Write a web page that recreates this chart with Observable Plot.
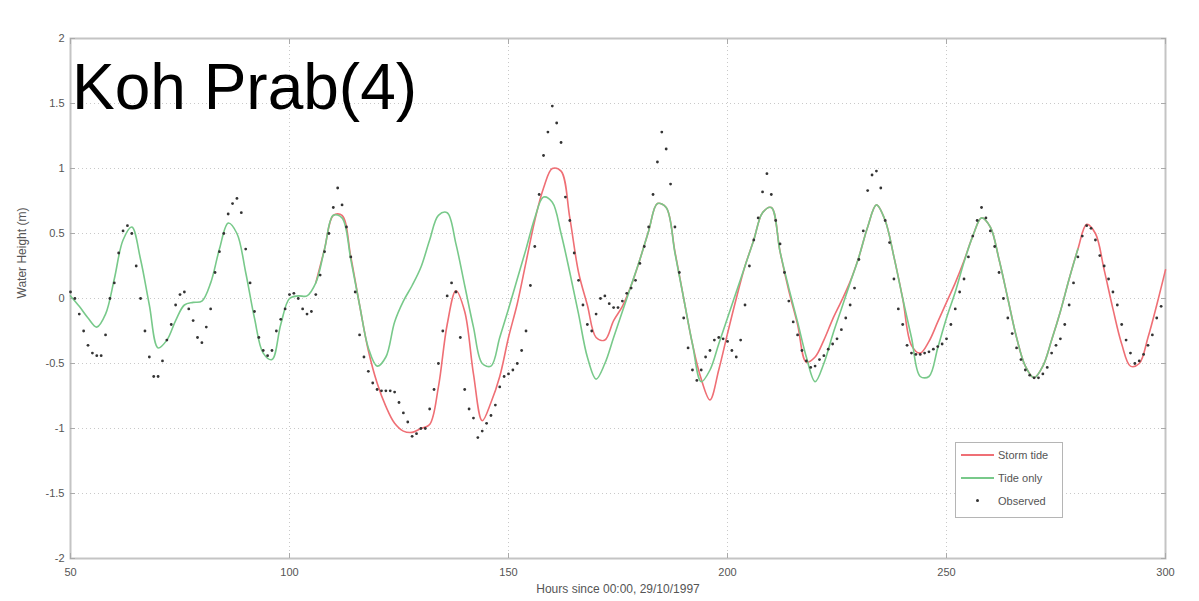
<!DOCTYPE html>
<html>
<head>
<meta charset="utf-8">
<script src="https://cdn.jsdelivr.net/npm/d3@7"></script>
<script src="https://cdn.jsdelivr.net/npm/@observablehq/plot@0.6"></script>
<style>
  html, body { margin: 0; padding: 0; background: #ffffff; }
  #wrap { position: relative; width: 1199px; height: 601px; overflow: hidden;
          font-family: "Liberation Sans", Arial, sans-serif; }
  #title { position: absolute; left: 72px; top: 55px; font-size: 64px; line-height: 1;
           color: #000; white-space: nowrap; }
  #legend { position: absolute; left: 955px; top: 442px; width: 108px; height: 76px;
            border: 1px solid #b5b5b5; background: #fff; box-sizing: border-box;
            font-size: 11px; color: #555; }
  .lg { position: absolute; left: 0; width: 100%; height: 14px; }
  .lg .sw { position: absolute; left: 5px; top: 6px; width: 33px; height: 2px; }
  .lg .dt { position: absolute; left: 20px; top: 5px; width: 3px; height: 3px; border-radius: 50%; background: #333; }
  .lg .tx { position: absolute; left: 42px; top: 0; line-height: 14px; white-space: nowrap; }
</style>
</head>
<body>
<div id="wrap">
  <div id="chart"></div>
  <div id="title"></div>
  <div id="legend"></div>
</div>
<script>
// ---------------- data ----------------
const titleText = "Koh Prab(4)";
const xLabel = "Hours since 00:00, 29/10/1997";
const yLabel = "Water Height (m)";

const xTicks = [50, 100, 150, 200, 250, 300];
const xTickLabels = ["50", "100", "150", "200", "250", "300"];
const yTicks = [-2, -1.5, -1, -0.5, 0, 0.5, 1, 1.5, 2];
const yTickLabels = ["-2", "-1.5", "-1", "-0.5", "0", "0.5", "1", "1.5", "2"];

const seriesNames = ["Storm tide", "Tide only", "Observed"];
const seriesColors = ["#ef6f75", "#78c98a", "#333333"];

// Tide only: every 2 hours from hour 50 to 280
const tideStart = 50, tideStep = 2;
const tideOnly = [
  0.02, -0.06, -0.15, -0.22, -0.12, 0.15, 0.45, 0.55, 0.3, -0.05,
  -0.38, -0.32, -0.17, -0.05, -0.03, -0.02, 0.12, 0.38, 0.58, 0.5,
  0.2, -0.15, -0.42, -0.47, -0.2, 0.0, 0.02, 0.02, 0.12, 0.38,
  0.64, 0.62, 0.3, -0.05, -0.38, -0.52, -0.45, -0.18, -0.02, 0.1,
  0.24, 0.45, 0.64, 0.66, 0.42, 0.1, -0.22, -0.5, -0.52, -0.3,
  -0.08, 0.15, 0.38, 0.62, 0.78, 0.74, 0.5, 0.2, -0.12, -0.45,
  -0.62, -0.5, -0.3, -0.1, 0.1, 0.3, 0.52, 0.73, 0.7, 0.35,
  0.0, -0.35, -0.64, -0.55, -0.35, -0.15, 0.05, 0.25, 0.45, 0.66,
  0.7, 0.36, 0.08, -0.18, -0.45, -0.64, -0.5, -0.28, -0.08, 0.12,
  0.32, 0.55, 0.72, 0.6, 0.32, 0.0, -0.3, -0.6, -0.6, -0.38,
  -0.15, 0.05, 0.28, 0.48, 0.62, 0.55, 0.3, 0.0, -0.3, -0.52,
  -0.61, -0.52, -0.32, -0.1, 0.15, 0.38
];

// Storm tide: every 2 hours from hour 106 to 300
const stormStart = 106, stormStep = 2;
const stormTide = [
  0.12, 0.38, 0.64, 0.64, 0.32, -0.05, -0.4, -0.65, -0.83, -0.96,
  -1.02, -1.03, -1.0, -0.97, -0.68, -0.2, 0.06, -0.1, -0.58, -0.94,
  -0.8, -0.6, -0.3, -0.04, 0.28, 0.6, 0.85, 1.0, 0.98, 0.62,
  0.2, -0.05, -0.3, -0.32, -0.17, -0.06, 0.1, 0.3, 0.52, 0.73,
  0.7, 0.36, 0.0, -0.35, -0.62, -0.78, -0.55, -0.27, 0.0, 0.25,
  0.45, 0.66, 0.7, 0.36, 0.06, -0.2, -0.49, -0.45, -0.32, -0.16,
  -0.02, 0.13, 0.32, 0.55, 0.72, 0.6, 0.32, 0.0, -0.36, -0.42,
  -0.33, -0.18, -0.03, 0.12, 0.29, 0.48, 0.62, 0.55, 0.3, 0.0,
  -0.3, -0.52, -0.61, -0.52, -0.32, -0.1, 0.15, 0.38, 0.57, 0.5,
  0.22, -0.08, -0.35, -0.52, -0.5, -0.3, -0.05, 0.22
];

// Observed: hourly from hour 50 to 299
const obsStart = 50, obsStep = 1;
const observed = [
  0.05, 0.0, -0.12, -0.25, -0.36, -0.42, -0.44, -0.44, -0.28, 0.0,
  0.12, 0.35, 0.52, 0.56, 0.5, 0.25, 0.0, -0.25, -0.45, -0.6,
  -0.6, -0.48, -0.32, -0.2, -0.05, 0.03, 0.05, -0.08, -0.17, -0.3,
  -0.34, -0.22, -0.08, 0.2, 0.36, 0.5, 0.65, 0.73, 0.77, 0.66,
  0.38, 0.12, -0.1, -0.3, -0.4, -0.44, -0.4, -0.25, -0.16, -0.08,
  0.03, 0.04, 0.0, -0.08, -0.12, -0.1, 0.03, 0.18, 0.36, 0.5,
  0.7, 0.85, 0.72, 0.55, 0.32, 0.05, -0.28, -0.45, -0.56, -0.65,
  -0.7, -0.71, -0.71, -0.71, -0.72, -0.8, -0.88, -0.95, -1.06, -1.04,
  -1.0, -1.0, -0.85, -0.7, -0.5, -0.25, 0.02, 0.12, 0.05, -0.3,
  -0.7, -0.85, -0.92, -1.07, -1.02, -0.96, -0.9, -0.82, -0.68, -0.6,
  -0.58, -0.55, -0.5, -0.4, -0.25, 0.1, 0.4, 0.8, 1.1, 1.28,
  1.48, 1.35, 1.2, 0.78, 0.6, 0.35, 0.14, -0.05, -0.2, -0.25,
  -0.12, 0.0, 0.02, -0.04, -0.07, -0.07, -0.02, 0.04, 0.08, 0.14,
  0.27, 0.4, 0.55, 0.8, 1.05, 1.28, 1.15, 0.88, 0.55, 0.2,
  -0.15, -0.38, -0.55, -0.63, -0.55, -0.45, -0.4, -0.32, -0.3, -0.31,
  -0.33, -0.4, -0.45, -0.32, -0.05, 0.25, 0.45, 0.62, 0.82, 0.96,
  0.8, 0.6, 0.42, 0.2, -0.02, -0.18, -0.28, -0.4, -0.48, -0.53,
  -0.52, -0.47, -0.44, -0.39, -0.35, -0.31, -0.24, -0.15, -0.05, 0.08,
  0.3, 0.52, 0.83, 0.95, 0.98, 0.85, 0.6, 0.43, 0.15, -0.08,
  -0.2, -0.36, -0.42, -0.43, -0.43, -0.42, -0.41, -0.39, -0.37, -0.35,
  -0.31, -0.2, -0.08, 0.05, 0.15, 0.32, 0.48, 0.6, 0.7, 0.62,
  0.52, 0.4, 0.2, 0.0, -0.15, -0.27, -0.38, -0.47, -0.55, -0.59,
  -0.61, -0.61, -0.58, -0.53, -0.42, -0.36, -0.31, -0.2, -0.05, 0.12,
  0.32, 0.48, 0.56, 0.54, 0.45, 0.33, 0.25, 0.15, 0.05, -0.05,
  -0.2, -0.32, -0.42, -0.5, -0.48, -0.43, -0.36, -0.28, -0.15, -0.06
];

// ---------------- build tables ----------------
const toRows = (vals, start, step) => vals.map((v, i) => ({h: start + i * step, v}));
const tideRows = toRows(tideOnly, tideStart, tideStep);
const stormRows = toRows(stormTide, stormStart, stormStep);
const obsRows = toRows(observed, obsStart, obsStep);

const fmtX = d => xTickLabels[xTicks.indexOf(d)];
const fmtY = d => yTickLabels[yTicks.indexOf(d)];
const blank = () => "";

const chart = Plot.plot({
  width: 1199,
  height: 601,
  marginLeft: 70,
  marginRight: 34,
  marginTop: 38,
  marginBottom: 43,
  x: {domain: [50, 300]},
  y: {domain: [-2, 2]},
  style: {fontFamily: "Liberation Sans, Arial, sans-serif", fontSize: "11px", color: "#555", background: "#ffffff"},
  marks: [
    Plot.gridX(xTicks, {stroke: "#888", strokeOpacity: 0.45, strokeDasharray: "1,3"}),
    Plot.gridY(yTicks, {stroke: "#888", strokeOpacity: 0.45, strokeDasharray: "1,3"}),
    Plot.frame({stroke: "#c4c4c4", strokeWidth: 2}),
    // inward tick marks on all four sides
    Plot.axisX(xTicks, {anchor: "bottom", tickSize: -5, tickFormat: blank, stroke: "#aaa", label: null}),
    Plot.axisX(xTicks, {anchor: "top", tickSize: -5, tickFormat: blank, stroke: "#aaa", label: null}),
    Plot.axisY(yTicks, {anchor: "left", tickSize: -5, tickFormat: blank, stroke: "#aaa", label: null}),
    Plot.axisY(yTicks, {anchor: "right", tickSize: -5, tickFormat: blank, stroke: "#aaa", label: null}),
    // tick labels
    Plot.axisX(xTicks, {anchor: "bottom", tickSize: 0, tickPadding: 10, tickFormat: fmtX, label: null, fill: "#555"}),
    Plot.axisY(yTicks, {anchor: "left", tickSize: 0, tickPadding: 6, tickFormat: fmtY, label: null, fill: "#555"}),
    // axis titles
    Plot.text([xLabel], {frameAnchor: "bottom", dy: 34, fill: "#555", fontSize: 12}),
    Plot.text([yLabel], {frameAnchor: "left", rotate: -90, dx: -48, fill: "#555", fontSize: 12}),
    // series
    Plot.line(stormRows, {x: "h", y: "v", stroke: seriesColors[0], strokeWidth: 1.6, curve: "catmull-rom"}),
    Plot.line(tideRows, {x: "h", y: "v", stroke: seriesColors[1], strokeWidth: 1.6, curve: "catmull-rom"}),
    Plot.dot(obsRows, {x: "h", y: "v", r: 1.4, fill: seriesColors[2], stroke: "none"})
  ]
});
document.getElementById("chart").appendChild(chart);
document.getElementById("title").textContent = titleText;

// legend
const legend = document.getElementById("legend");
seriesNames.forEach((name, i) => {
  const row = document.createElement("div");
  row.className = "lg";
  row.style.top = (5 + i * 23) + "px";
  if (i < 2) {
    const sw = document.createElement("div");
    sw.className = "sw";
    sw.style.background = seriesColors[i];
    row.appendChild(sw);
  } else {
    const dt = document.createElement("div");
    dt.className = "dt";
    row.appendChild(dt);
  }
  const tx = document.createElement("div");
  tx.className = "tx";
  tx.textContent = name;
  row.appendChild(tx);
  legend.appendChild(row);
});
</script>
</body>
</html>
